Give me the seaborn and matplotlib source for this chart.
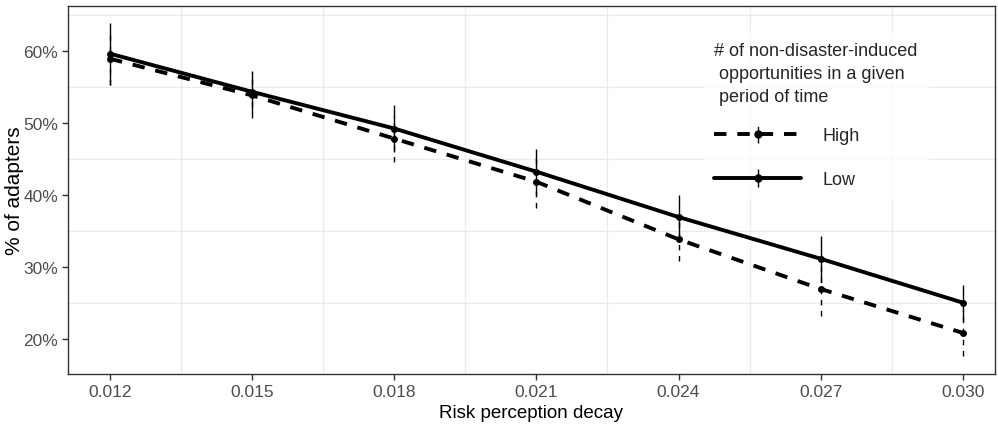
import numpy as np
import pandas as pd
import matplotlib
matplotlib.use("Agg")
import matplotlib.pyplot as plt
import seaborn as sns
from matplotlib.ticker import FuncFormatter

# ---- data ----
decay = [0.012, 0.015, 0.018, 0.021, 0.024, 0.027, 0.030]
high_mean = [58.9, 53.8, 47.8, 41.8, 33.8, 26.9, 20.8]
high_err = [3.6, 3.2, 3.2, 3.7, 3.0, 3.7, 3.2]
low_mean = [59.6, 54.3, 49.2, 43.2, 36.9, 31.1, 25.0]
low_err = [4.3, 2.9, 3.3, 3.2, 3.1, 3.2, 2.5]
groups = ["High", "Low"]
x_ticks = [0.012, 0.015, 0.018, 0.021, 0.024, 0.027, 0.030]
y_ticks = [20, 30, 40, 50, 60]

df = pd.DataFrame({
    "decay": decay * 2,
    "pct": high_mean + low_mean,
    "err": high_err + low_err,
    "group": ["High"] * len(decay) + ["Low"] * len(decay),
})

sns.set_style("white")
plt.rcParams["font.family"] = ["Liberation Sans", "DejaVu Sans"]

fig = plt.figure(figsize=(9.98, 4.27), dpi=100)
ax = fig.add_axes([0.068, 0.122, 0.929, 0.862])

dash = (3.2, 2.8)
sns.lineplot(data=df, x="decay", y="pct", style="group",
             dashes={"High": dash, "Low": ""}, color="black",
             linewidth=2.8, marker="o", markersize=5, markeredgewidth=0,
             legend=False, ax=ax, errorbar=None)

styles = {"High": (0, (4, 4)), "Low": "-"}
handles = []
for g in groups:
    sub = df[df["group"] == g]
    eb = ax.errorbar(sub["decay"], sub["pct"], yerr=sub["err"], fmt="none",
                     ecolor="black", elinewidth=1.0, capsize=0, zorder=1)
    for lc in eb.lines[2]:
        lc.set_linestyle(styles[g])
    # legend proxy
    h = ax.errorbar([np.nan], [np.nan], yerr=[[np.nan], [np.nan]],
                    fmt="o", color="black", markersize=5,
                    linestyle="--" if g == "High" else "-",
                    dashes=dash if g == "High" else (None, None),
                    linewidth=2.8, elinewidth=1.0, capsize=0)
    for lc in h.lines[2]:
        lc.set_linestyle(styles[g])
    handles.append(h)

ax.set_xlim(0.01111, 0.03068)
ax.set_ylim(15.1, 66.25)
ax.set_xticks(x_ticks)
ax.set_xticklabels([f"{v:.3f}" for v in x_ticks])
ax.set_yticks(y_ticks)
ax.yaxis.set_major_formatter(FuncFormatter(lambda v, p: f"{v:.0f}%"))
ax.set_xticks([0.0135, 0.0165, 0.0195, 0.0225, 0.0255, 0.0285], minor=True)
ax.set_yticks([25, 35, 45, 55, 65], minor=True)
ax.grid(False, which="major")
ax.grid(True, which="minor", color="#EBEBEB", linewidth=1.0)
ax.tick_params(which="minor", length=0)
ax.tick_params(which="major", length=4, width=1, color="#333333",
               labelsize=12.5, labelcolor="#4D4D4D", direction="out", pad=3)
ax.tick_params(axis="both", which="major", bottom=True, left=True)
for s in ax.spines.values():
    s.set_color("#333333")
    s.set_linewidth(1.0)

ax.set_xlabel("Risk perception decay", fontsize=13.5, color="black", labelpad=4)
ax.set_ylabel("% of adapters", fontsize=15, color="black")
ax.yaxis.set_label_coords(-0.047, 0.5)

leg = ax.legend(handles, groups,
                title="# of non-disaster-induced\n opportunities in a given\n period of time",
                loc="upper left", bbox_to_anchor=(0.676, 0.955),
                frameon=True, facecolor="white", edgecolor="white",
                fontsize=13, title_fontsize=13, handlelength=4.8,
                handletextpad=1.2, labelspacing=1.5, borderpad=0.6,
                alignment="left")
leg.get_frame().set_linewidth(0)
leg.get_title().set_linespacing(1.45)
leg._legend_box.sep = 16

fig.savefig("out.png", dpi=100)
